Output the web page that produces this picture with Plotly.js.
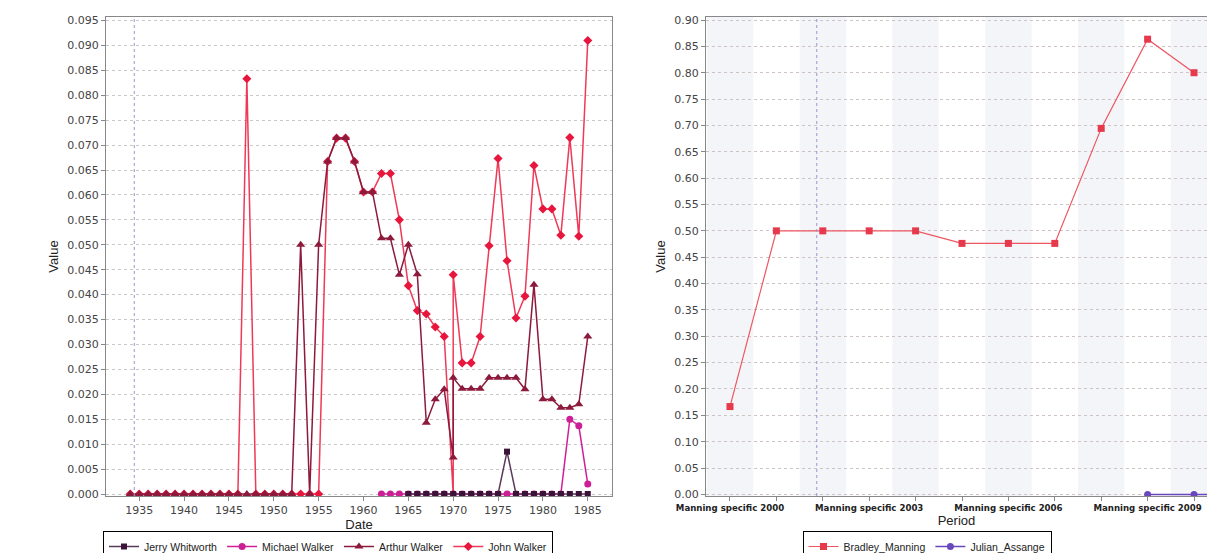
<!DOCTYPE html>
<html><head><meta charset="utf-8">
<script src="https://cdn.plot.ly/plotly-3.0.1.min.js"></script>
<style>html,body{margin:0;padding:0;background:#fff}#chart{width:1207px;height:553px}</style>
</head><body><div id="chart"></div><script>
// ---------- Left chart data ----------
const walkerYears = [1934,1935,1936,1937,1938,1939,1940,1941,1942,1943,1944,1945,1946,1947,1948,1949,1950,1951,1952,1953,1954,1955,1956,1957,1958,1959,1960,1961,1962,1963,1964,1965,1966,1967,1968,1969,1970,1970,1971,1972,1973,1974,1975,1976,1977,1978,1979,1980,1981,1982,1983,1984,1985];
const johnWalker = [0,0,0,0,0,0,0,0,0,0,0,0,0,0.0833,0,0,0,0,0,0,0,0,0.0667,0.0714,0.0714,0.0667,0.0606,0.0606,0.0643,0.0643,0.055,0.0418,0.0368,0.0361,0.0335,0.0316,0,0.044,0.0263,0.0263,0.0316,0.0498,0.0673,0.0468,0.0353,0.0397,0.0659,0.0572,0.0572,0.0519,0.0715,0.0517,0.091];
const arthurWalker = [0,0,0,0,0,0,0,0,0,0,0,0,0,0,0,0,0,0,0,0.05,0,0.05,0.0667,0.0714,0.0714,0.0667,0.0606,0.0606,0.0513,0.0513,0.044,0.05,0.0441,0.0143,0.019,0.021,0.0073,0.0233,0.0211,0.0211,0.0211,0.0233,0.0233,0.0233,0.0233,0.021,0.042,0.019,0.019,0.0173,0.0173,0.018,0.0316];
const michaelYears = [1962,1963,1964,1965,1966,1967,1968,1969,1970,1971,1972,1973,1974,1975,1976,1977,1978,1979,1980,1981,1982,1983,1984,1985];
const michaelWalker = [0,0,0,0,0,0,0,0,0,0,0,0,0,0,0,0,0,0,0,0,0,0.015,0.0137,0.002];
const jerryYears = [1965,1966,1967,1968,1969,1970,1971,1972,1973,1974,1975,1976,1977,1978,1979,1980,1981,1982,1983,1984,1985];
const jerryWhitworth = [0,0,0,0,0,0,0,0,0,0,0,0.0085,0,0,0,0,0,0,0,0,0];
const leftYTicks = [0,0.005,0.01,0.015,0.02,0.025,0.03,0.035,0.04,0.045,0.05,0.055,0.06,0.065,0.07,0.075,0.08,0.085,0.09,0.095];
const leftXTicks = [1935,1940,1945,1950,1955,1960,1965,1970,1975,1980,1985];

// ---------- Right chart data ----------
const periods = ["Manning specific 2000","Manning specific 2001","Manning specific 2002","Manning specific 2003","Manning specific 2004","Manning specific 2005","Manning specific 2006","Manning specific 2007","Manning specific 2008","Manning specific 2009","Manning specific 2010","Manning specific 2011"];
const periodLabels = ["Manning specific 2000","","","Manning specific 2003","","","Manning specific 2006","","","Manning specific 2009","",""];
const bradleyPeriods = periods.slice(0, 11);
const bradleyManning = [0.1667,0.5,0.5,0.5,0.5,0.4762,0.4762,0.4762,0.6944,0.8636,0.8];
const julianPeriods = ["Manning specific 2009","Manning specific 2010","Manning specific 2011"];
const julianAssange = [0,0,0];
const rightYTicks = [0,0.05,0.1,0.15,0.2,0.25,0.3,0.35,0.4,0.45,0.5,0.55,0.6,0.65,0.7,0.75,0.8,0.85,0.9];

// ---------- helpers ----------
const W = 1207, H = 553;
const px = v => v / W, py = v => (H - v) / H;
const tickFont = {family: 'DejaVu Sans, sans-serif', size: 11, color: '#444'};
const titleFont = {family: 'Liberation Sans, Arial, sans-serif', size: 13, color: '#222'};
const legendFont = {family: 'Liberation Sans, Arial, sans-serif', size: 10.5, color: '#222'};

const traces = [
  {x: walkerYears, y: johnWalker, name: 'John Walker', type: 'scatter', mode: 'lines+markers',
   line: {color: '#ee3a58', width: 1.5}, marker: {symbol: 'diamond', size: 7, color: '#e8163c'},
   xaxis: 'x', yaxis: 'y', legend: 'legend'},
  {x: walkerYears, y: arthurWalker, name: 'Arthur Walker', type: 'scatter', mode: 'lines+markers',
   line: {color: '#8c1a3c', width: 1.5}, marker: {symbol: 'triangle-up', size: 8, color: '#8c1a3c'},
   xaxis: 'x', yaxis: 'y', legend: 'legend'},
  {x: michaelYears, y: michaelWalker, name: 'Michael Walker', type: 'scatter', mode: 'lines+markers',
   line: {color: '#cc1f96', width: 1.5}, marker: {symbol: 'circle', size: 7, color: '#cc1f96'},
   xaxis: 'x', yaxis: 'y', legend: 'legend'},
  {x: jerryYears, y: jerryWhitworth, name: 'Jerry Whitworth', type: 'scatter', mode: 'lines+markers',
   line: {color: '#5a3a58', width: 1.5}, marker: {symbol: 'square', size: 6, color: '#3b1338'},
   xaxis: 'x', yaxis: 'y', legend: 'legend'},
  {x: bradleyPeriods, y: bradleyManning, name: 'Bradley_Manning', type: 'scatter', mode: 'lines+markers',
   line: {color: '#ee5560', width: 1.2}, marker: {symbol: 'square', size: 7, color: '#e63a4c'},
   xaxis: 'x2', yaxis: 'y2', legend: 'legend2'},
  {x: julianPeriods, y: julianAssange, name: 'Julian_Assange', type: 'scatter', mode: 'lines+markers',
   line: {color: '#6a48bb', width: 1.5}, marker: {symbol: 'circle', size: 7, color: '#6a48bb'},
   xaxis: 'x2', yaxis: 'y2', legend: 'legend2'}
];

// alternating category bands on the right plot
const shapes = [];
for (let i = 0; i < periods.length; i += 2) {
  shapes.push({type: 'rect', xref: 'x2', yref: 'y2 domain', x0: i - 0.5, x1: i + 0.5, y0: 0, y1: 1,
    fillcolor: '#f3f5f8', line: {width: 0}, layer: 'below'});
}
// crosshair lines
shapes.push({type: 'line', xref: 'x', yref: 'y domain', x0: 1934.45, x1: 1934.45, y0: 0, y1: 1,
  line: {color: '#9a94cc', width: 1, dash: 'dot'}});
shapes.push({type: 'line', xref: 'x2', yref: 'y2 domain', x0: 1.87, x1: 1.87, y0: 0, y1: 1,
  line: {color: '#9a94cc', width: 1, dash: 'dot'}});

const commonAxis = {showline: true, linecolor: '#888', linewidth: 1, ticks: 'outside', ticklen: 4,
  tickcolor: '#888', tickfont: tickFont, zeroline: false, automargin: false};

const layout = {
  width: W, height: H,
  margin: {l: 0, r: 0, t: 0, b: 0, autoexpand: false},
  paper_bgcolor: '#ffffff', plot_bgcolor: '#ffffff',
  showlegend: true,
  xaxis: Object.assign({}, commonAxis, {domain: [px(106), px(612)], range: [1931.3, 1987.7],
    tickmode: 'array', tickvals: leftXTicks, ticktext: leftXTicks.map(String), showgrid: false, mirror: true,
    title: {text: 'Date', font: titleFont, standoff: 2}, anchor: 'y'}),
  yaxis: Object.assign({}, commonAxis, {domain: [py(496), py(17)], range: [-0.0004, 0.0957],
    tickmode: 'array', tickvals: leftYTicks, ticktext: leftYTicks.map(v => v.toFixed(3)),
    showgrid: true, gridcolor: '#c8c8c8', griddash: 'dot', gridwidth: 1, mirror: true,
    title: {text: 'Value', font: titleFont, standoff: 5}, anchor: 'x'}),
  xaxis2: Object.assign({}, commonAxis, {domain: [px(706), 1], type: 'category', range: [-0.517, 10.28],
    tickmode: 'array', tickvals: periods, ticktext: periodLabels, showgrid: false, mirror: true,
    tickfont: {family: 'DejaVu Sans, sans-serif', size: 8.6, color: '#222', weight: 'bold'},
    title: {text: 'Period', font: titleFont, standoff: 2}, anchor: 'y2'}),
  yaxis2: Object.assign({}, commonAxis, {domain: [py(496), py(17)], range: [-0.003, 0.9057],
    tickmode: 'array', tickvals: rightYTicks, ticktext: rightYTicks.map(v => v.toFixed(2)),
    showgrid: true, gridcolor: '#cfc4c4', griddash: 'dot', gridwidth: 1, mirror: true,
    title: {text: 'Value', font: titleFont, standoff: 5}, anchor: 'x2'}),
  legend: {orientation: 'h', x: px(328), xanchor: 'center', y: py(531), yanchor: 'top',
    bordercolor: '#000', borderwidth: 1, bgcolor: 'rgba(255,255,255,0)', traceorder: 'reversed',
    font: legendFont, itemwidth: 30},
  legend2: {orientation: 'h', x: px(927), xanchor: 'center', y: py(531), yanchor: 'top',
    bordercolor: '#000', borderwidth: 1, bgcolor: 'rgba(255,255,255,0)',
    font: legendFont, itemwidth: 30},
  shapes: shapes
};

Plotly.newPlot('chart', traces, layout, {displayModeBar: false, staticPlot: true});
</script></body></html>
